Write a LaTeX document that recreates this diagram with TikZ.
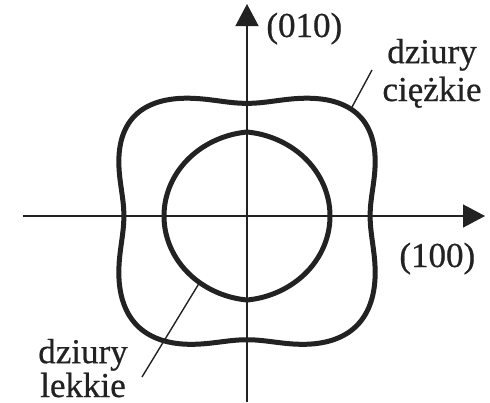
\documentclass[tikz,border=0pt]{standalone}
\usepackage{fontspec}
\setmainfont{Liberation Serif}
\newfontfamily\scanfont{Liberation Serif}[FakeBold=0.6]
\usepackage{tikz}
\usetikzlibrary{arrows.meta}
\definecolor{Ink}{HTML}{222222}

\begin{document}
\begin{tikzpicture}[x=0.5pt,y=0.5pt,
  declare function={c2(\t)=cos(\t)*cos(\t); s2(\t)=sin(\t)*sin(\t);
    rh(\t)=131*(1-0.06*c2(2*\t)*c2(2*\t))/((c2(\t)*c2(\t)+s2(\t)*s2(\t))^0.25);
    sy(\t)=0.96-0.045*sin(\t);
    rl(\t)=84-8*abs(cos(\t))+7*c2(\t);},
  axis/.style={Ink,line width=0.7pt,-{Triangle[length=11pt,width=11.5pt]}},
  band/.style={Ink,line width=2.5pt,line join=round},
  leader/.style={Ink,line width=0.7pt},
  lbl/.style={inner sep=0pt,text=Ink,align=center,font=\scanfont\fontsize{17.5}{15.5}\selectfont}]
  \useasboundingbox (-247,-186) rectangle (243,216);
  \coordinate (xl) at (-224,0);
  \coordinate (xr) at (238,0);
  \coordinate (yb) at (0,-186);
  \coordinate (yt) at (0,212);
  \draw[axis] (xl) -- (xr);
  \draw[axis] (yb) -- (yt);
  \draw[band] plot[domain=0:358,samples=180,smooth cycle]
    ({rh(\x)*cos(\x)},{rh(\x)*sin(\x)*sy(\x)});
  \draw[band] plot[domain=0:358,samples=180] ({rl(\x)*cos(\x)},{rl(\x)*sin(\x)}) -- cycle;
  \coordinate (heavyon) at ({rh(48)*cos(48)},{rh(48)*sin(48)*sy(48)});
  \coordinate (heavyend) at (125,146);
  \coordinate (lighton) at ({rl(234.5)*cos(234.5)},{rl(234.5)*sin(234.5)});
  \coordinate (lightend) at (-105,-161);
  \draw[leader] (heavyon) -- (heavyend);
  \draw[leader] (lighton) -- (lightend);
  \node[lbl,anchor=base west] (dir010) at (19,179) {(010)};
  \node[lbl,anchor=base west] (dir100) at (152,-51) {(100)};
  \node[lbl,anchor=base] (heavy) at (185,115) {dziury\\[2pt]ciężkie};
  \node[lbl,anchor=base,text depth=0pt] (light) at (-164,-181) {dziury\\lekkie};
\end{tikzpicture}
\end{document}
